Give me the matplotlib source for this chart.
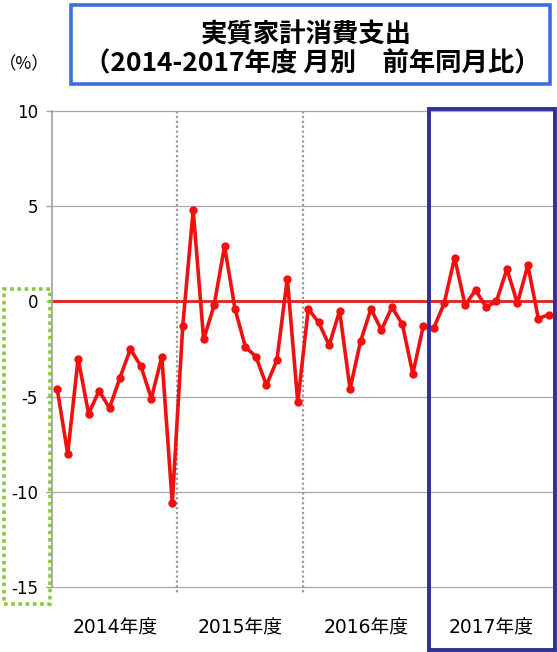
import numpy as np
import matplotlib.pyplot as plt
from matplotlib.patches import Rectangle

#params
plt.rcParams['font.family'] = ['DejaVu Sans', 'Noto Sans CJK JP']

years = ['2014年度', '2015年度', '2016年度', '2017年度']
# monthly yoy change (%), Apr 2014 .. Mar 2018
fy2014 = [-4.6, -8.0, -3.0, -5.9, -4.7, -5.6, -4.0, -2.5, -3.4, -5.1, -2.9, -10.6]
fy2015 = [-1.3, 4.8, -2.0, -0.2, 2.9, -0.4, -2.4, -2.9, -4.4, -3.1, 1.2, -5.3]
fy2016 = [-0.4, -1.1, -2.3, -0.5, -4.6, -2.1, -0.4, -1.5, -0.3, -1.2, -3.8, -1.3]
fy2017 = [-1.4, -0.1, 2.3, -0.2, 0.6, -0.3, 0.0, 1.7, -0.1, 1.9, -0.9, -0.7]
yticks = [10, 5, 0, -5, -10, -15]

values = np.array(fy2014 + fy2015 + fy2016 + fy2017)
months = np.arange(len(values))

W, H = 557, 652
fig = plt.figure(figsize=(W / 100, H / 100), dpi=100)

def fx(px):
    return px / W

def fy(py):
    return 1 - py / H

# plot area
ax = fig.add_axes([fx(52), fy(587), fx(554) - fx(52), fy(111) - fy(587)])
ax.set_xlim(-0.5, len(values) - 0.5)
ax.set_ylim(-15, 10)

for t in yticks:
    if t != 0:
        ax.axhline(t, color='#a8a8a8', lw=0.9, zorder=1, clip_on=False)
ax.axhline(0, color='#e41e1e', lw=2.0, zorder=2)

# year boundaries (dotted)
for b in [11.5, 23.5]:
    ax.plot([b, b], [10, -15.3], color='#999999', lw=1.6, linestyle=(0, (1, 1.2)),
            clip_on=False, zorder=1)

ax.plot(months, values, color='#f01010', lw=2.6, marker='o', markersize=5, zorder=3)

for s in ['top', 'right', 'bottom']:
    ax.spines[s].set_visible(False)
ax.spines['left'].set_color('#a0a0a0')
ax.spines['left'].set_linewidth(1.2)

ax.set_yticks(yticks)
ax.set_yticklabels([str(t) for t in yticks])
ax.tick_params(axis='y', length=4, width=1, color='#a0a0a0', pad=6, labelsize=12)
ax.set_xticks([])

for k, name in enumerate(years):
    ax.text(12 * k + 5.5, -17.15, name, ha='center', va='center', fontsize=13.5)

# green dotted highlight around the y axis labels
fig.patches.append(Rectangle((fx(4), fy(604)), fx(50) - fx(4), fy(289) - fy(604),
                             transform=fig.transFigure, fill=False, edgecolor='#8cc63f',
                             lw=2.6, linestyle=(0, (1, 1))))

# navy box over fiscal 2017
fig.patches.append(Rectangle((fx(429), fy(650)), fx(555) - fx(429), fy(109) - fy(650),
                             transform=fig.transFigure, fill=False, edgecolor='#2e3192',
                             lw=2.8, zorder=5))

# title box
fig.patches.append(Rectangle((fx(71), fy(84)), fx(550) - fx(71), fy(5) - fy(84),
                             transform=fig.transFigure, fill=False, edgecolor='#3b6fe0',
                             lw=2.6))
fig.text(fx(306), fy(35), '実質家計消費支出', ha='center', va='center',
         fontsize=19, fontweight='bold', family=['Noto Sans CJK JP'])
fig.text(fx(312), fy(64), '（2014-2017年度 月別　前年同月比）', ha='center', va='center',
         fontsize=19, fontweight='bold', family=['Noto Sans CJK JP'])
fig.text(fx(24), fy(64), '（%）', ha='center', va='center', fontsize=12.5,
         family=['Noto Sans CJK JP'])

fig.savefig('out.png', dpi=100)
